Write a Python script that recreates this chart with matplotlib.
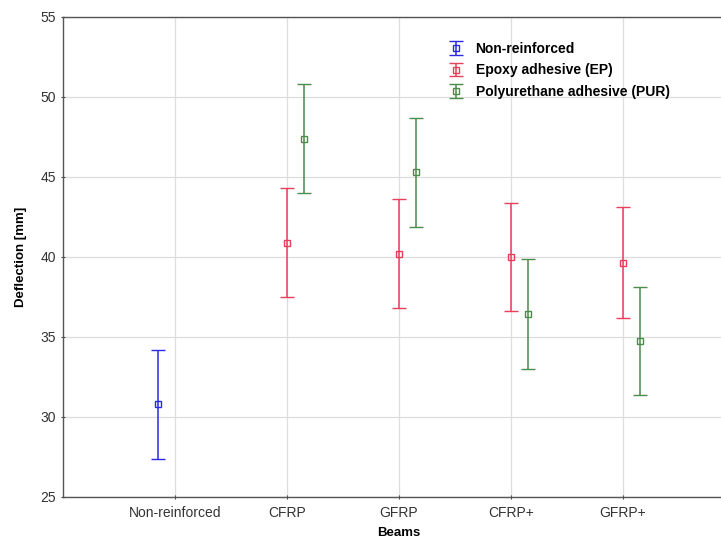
import matplotlib
matplotlib.use("Agg")
import matplotlib.pyplot as plt
import numpy as np

plt.rcParams['font.family'] = ['Liberation Sans', 'DejaVu Sans']

categories = ["Non-reinforced", "CFRP", "GFRP", "CFRP+", "GFRP+"]
series_names = ["Non-reinforced", "Epoxy adhesive (EP)", "Polyurethane adhesive (PUR)"]
# mean, half-width of error bar; None where absent
nonreinf_mean = [30.8, None, None, None, None]
nonreinf_err = [3.4, None, None, None, None]
ep_mean = [None, 40.9, 40.2, 40.0, 39.65]
ep_err = [None, 3.4, 3.4, 3.4, 3.45]
pur_mean = [None, 47.4, 45.3, 36.45, 34.75]
pur_err = [None, 3.4, 3.4, 3.45, 3.4]

colors = ["#2a2ae6", "#e8405a", "#4a8c4a"]
offsets = [-0.15, 0.0, 0.15]

fig = plt.figure(figsize=(7.21, 5.45), dpi=100)
ax = fig.add_axes([63/721, 1-497/545, 672/721, 480/545])

x = np.arange(1, len(categories)+1)
for means, errs, col, off, name in zip([nonreinf_mean, ep_mean, pur_mean],
                                       [nonreinf_err, ep_err, pur_err],
                                       colors, offsets, series_names):
    xs = [xi + off for xi, m in zip(x, means) if m is not None]
    ms = [m for m in means if m is not None]
    es = [e for e in errs if e is not None]
    ax.errorbar(xs, ms, yerr=es, fmt='s', color=col, mfc='none', mec=col,
                ms=4, mew=1, elinewidth=1.1, capsize=5, capthick=1, label=name,
                ecolor=col)

ax.set_xlim(0, 6)
ax.set_ylim(25, 55)
ax.set_xticks(x)
ax.set_xticklabels(categories)
ax.set_yticks(np.arange(25, 56, 5))
ax.grid(True, color='#dddddd', linewidth=0.9)
ax.set_axisbelow(True)
for s in ax.spines.values():
    s.set_color('#555555')
    s.set_linewidth(1.0)
ax.tick_params(axis='both', colors='#444444', labelsize=10, length=3, direction='inout',
               labelcolor='#333333')
ax.tick_params(axis='x', pad=5)
ax.set_xlabel("Beams", fontsize=9.5, fontweight='bold', labelpad=5)
ax.set_ylabel("Deflection [mm]", fontsize=9.5, fontweight='bold', labelpad=10)

leg = ax.legend(loc='upper left', bbox_to_anchor=(0.556, 0.96), frameon=False,
                prop={'weight': 'bold', 'size': 10}, handlelength=2.0,
                handletextpad=0.4, labelspacing=0.55, borderaxespad=0)

fig.savefig("out.png", dpi=100)
